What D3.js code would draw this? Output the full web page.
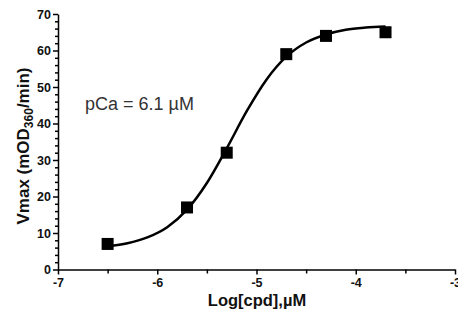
<!DOCTYPE html>
<html lang="en">
<head>
<meta charset="UTF-8">
<title>Vmax vs Log[cpd]</title>
<script src="https://d3js.org/d3.v7.min.js"></script>
<style>
  body { margin: 0; background: #fff; }
  svg text { font-family: "Liberation Sans", Arial, sans-serif; fill: #111; }
  .tick text { font-weight: bold; font-size: 12.5px; }
  .axis path, .axis line { stroke: #000; stroke-width: 1.5; }
</style>
</head>
<body>
<svg id="chart" width="458" height="320"></svg>
<script>
  // measured points
  const logConc = [-6.5, -5.7, -5.3, -4.7, -4.3, -3.7];
  const vmax = [7, 17, 32, 59, 64, 65];

  // fitted curve
  const fitX = [-6.5, -6.3, -6.1, -5.9, -5.7, -5.5, -5.3, -5.1, -4.9, -4.7, -4.5, -4.3, -4.1, -3.9, -3.7];
  const fitY = [6.4, 7.2, 8.8, 11.6, 16.4, 23.7, 33.2, 43.3, 52.0, 58.3, 62.2, 64.4, 65.7, 66.3, 66.6];

  const xTicks = [-7, -6, -5, -4, -3];
  const yTicks = [0, 10, 20, 30, 40, 50, 60, 70];

  const svg = d3.select("#chart");
  const x = d3.scaleLinear().domain([-7, -3]).range([58, 455]);
  const y = d3.scaleLinear().domain([0, 70]).range([269.5, 14]);

  // minor ticks
  svg.append("g").attr("class", "axis")
    .attr("transform", "translate(0,269.5)")
    .call(d3.axisBottom(x).tickValues(d3.range(-6.5, -3, 1)).tickSize(4).tickFormat(""))
    .call(g => g.select(".domain").remove());
  svg.append("g").attr("class", "axis")
    .attr("transform", "translate(58,0)")
    .call(d3.axisLeft(y).tickValues(d3.range(0, 71, 2).filter(v => v % 10)).tickSize(3).tickFormat(""))
    .call(g => g.select(".domain").remove());

  // major axes
  svg.append("g").attr("class", "axis")
    .attr("transform", "translate(0,269.5)")
    .call(d3.axisBottom(x).tickValues(xTicks).tickSize(5).tickSizeOuter(0).tickPadding(4))
    .call(g => g.selectAll(".tick text").text(d => d));
  svg.append("g").attr("class", "axis")
    .attr("transform", "translate(58,0)")
    .call(d3.axisLeft(y).tickValues(yTicks).tickSize(5).tickSizeOuter(0).tickPadding(2));

  // curve
  const line = d3.line().x((d, i) => x(fitX[i])).y(d => y(d)).curve(d3.curveMonotoneX);
  svg.append("path").datum(fitY)
    .attr("d", line).attr("fill", "none").attr("stroke", "#000").attr("stroke-width", 2.5);

  // points
  const s = 12;
  svg.append("g").selectAll("rect").data(vmax).join("rect")
    .attr("x", (d, i) => x(logConc[i]) - s / 2)
    .attr("y", d => y(d) - s / 2)
    .attr("width", s).attr("height", s).attr("fill", "#000");

  // labels
  svg.append("text").attr("x", 257).attr("y", 306).attr("text-anchor", "middle")
    .style("font-weight", "bold").style("font-size", "16.5px").text("Log[cpd],\u00b5M");

  const yl = svg.append("text").attr("transform", "translate(29,146) rotate(-90)")
    .attr("text-anchor", "middle").style("font-weight", "bold").style("font-size", "17px");
  yl.append("tspan").text("Vmax (mOD");
  yl.append("tspan").attr("dy", 4).style("font-size", "12px").text("360");
  yl.append("tspan").attr("dy", -4).text("/min)");

  svg.append("text").attr("x", 85).attr("y", 110)
    .style("font-size", "18px").style("fill", "#333").text("pCa = 6.1 \u00b5M");
</script>
</body>
</html>
